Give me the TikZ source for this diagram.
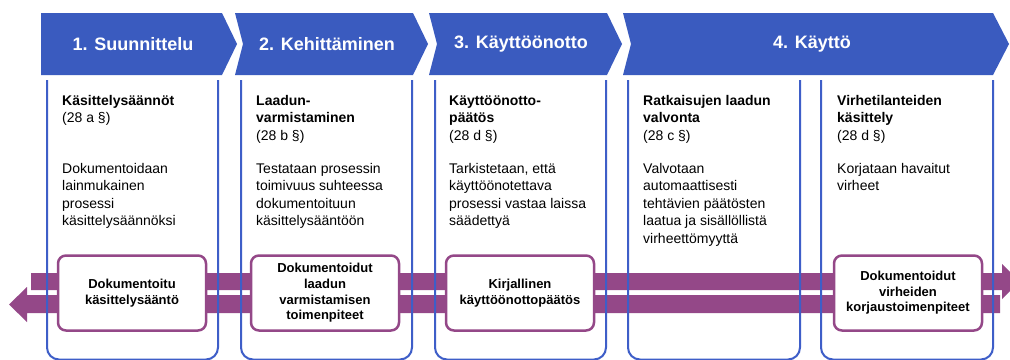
\documentclass[tikz,border=0pt]{standalone}
\usepackage{fontspec}
\setmainfont{Liberation Sans}
\usepackage{xcolor}
\definecolor{vaihe}{RGB}{58,91,191}
\definecolor{sarake}{RGB}{62,94,200}
\definecolor{violetti}{RGB}{148,72,136}
\begin{document}
\begin{tikzpicture}[x=1pt, y=-1pt,
chev/.style={fill=vaihe},
chevtext/.style={text=white, inner sep=0pt, font=\fontsize{18}{21}\selectfont\bfseries},
col/.style={draw=sarake, line width=2pt, rounded corners=12pt},
txt/.style={anchor=north west, align=left, inner sep=0pt, font=\fontsize{14}{17.5}\selectfont},
box/.style={rectangle, draw=violetti, fill=white, line width=2.5pt, rounded corners=8pt, minimum width=148pt, minimum height=75pt, align=center, font=\fontsize{13}{15.6}\selectfont\bfseries},
band/.style={fill=violetti}]
\useasboundingbox (0,0) rectangle (1010,359);
\fill[white] (0,0) rectangle (1010,359);
% vaiheet
\fill[chev] (41,13) -- (222,13) -- (237,44) -- (222,75) -- (41,75) -- cycle;
\fill[chev] (235,13) -- (413,13) -- (428,44) -- (413,75) -- (235,75) -- (243,44) -- cycle;
\fill[chev] (429,13) -- (607,13) -- (622,44) -- (607,75) -- (429,75) -- (437,44) -- cycle;
\fill[chev] (623,13) -- (993,13) -- (1009,44) -- (993,75) -- (623,75) -- (631,44) -- cycle;
\node[chevtext] (v1) at (133,44) {1. Suunnittelu};
\node[chevtext] (v2) at (327,44) {2. Kehittäminen};
\node[chevtext] (v3) at (521,44) {3. Käyttöönotto};
\node[chevtext] (v4) at (812,44) {4. Käyttö};
% nuolet
\fill[band] (31,273) -- (1002,273) -- (1002,264) -- (1020,281.5) -- (1002,299) -- (1002,290) -- (31,290) -- cycle;
\fill[band] (1000,295) -- (27,295) -- (27,287) -- (9,304.5) -- (27,322) -- (27,313) -- (1000,313) -- cycle;
% sarakkeet
\draw[col] (47,80) -- (47,359.5) -- (218,359.5) -- (218,80);
\draw[col] (241,80) -- (241,359.5) -- (412,359.5) -- (412,80);
\draw[col] (435,80) -- (435,359.5) -- (606,359.5) -- (606,80);
\draw[col] (628,80) -- (628,359.5) -- (800,359.5) -- (800,80);
\draw[col] (821,80) -- (821,359.5) -- (993,359.5) -- (993,80);
\node[txt] (h1) at (62,92.75) {\strut\textbf{Käsittelysäännöt}\\(28 a §)};
\node[txt] (k1) at (62,160.75) {\strut Dokumentoidaan\\lainmukainen\\prosessi\\käsittelysäännöksi};
\node[txt] (h2) at (256,92.75) {\strut\textbf{Laadun-}\\\textbf{varmistaminen}\\(28 b §)};
\node[txt] (k2) at (256,160.75) {\strut Testataan prosessin\\toimivuus suhteessa\\dokumentoituun\\käsittelysääntöön};
\node[txt] (h3) at (449,92.75) {\strut\textbf{Käyttöönotto-}\\\textbf{päätös}\\(28 d §)};
\node[txt] (k3) at (449,160.75) {\strut Tarkistetaan, että\\käyttöönotettava\\prosessi vastaa laissa\\säädettyä};
\node[txt] (h4) at (643,92.75) {\strut\textbf{Ratkaisujen laadun}\\\textbf{valvonta}\\(28 c §)};
\node[txt] (k4) at (643,160.75) {\strut Valvotaan\\automaattisesti\\tehtävien päätösten\\laatua ja sisällöllistä\\virheettömyyttä};
\node[txt] (h5) at (837,92.75) {\strut\textbf{Virhetilanteiden}\\\textbf{käsittely}\\(28 d §)};
\node[txt] (k5) at (837,160.75) {\strut Korjataan havaitut\\virheet};
% tuotokset
\node[box] (b1) at (132,293) {Dokumentoitu\\käsittelysääntö};
\node[box] (b2) at (325,293) {Dokumentoidut\\laadun\\varmistamisen\\toimenpiteet};
\node[box] (b3) at (520,293) {Kirjallinen\\käyttöönottopäätös};
\node[box] (b5) at (908,293) {Dokumentoidut\\virheiden\\korjaustoimenpiteet};
\end{tikzpicture}
\end{document}
